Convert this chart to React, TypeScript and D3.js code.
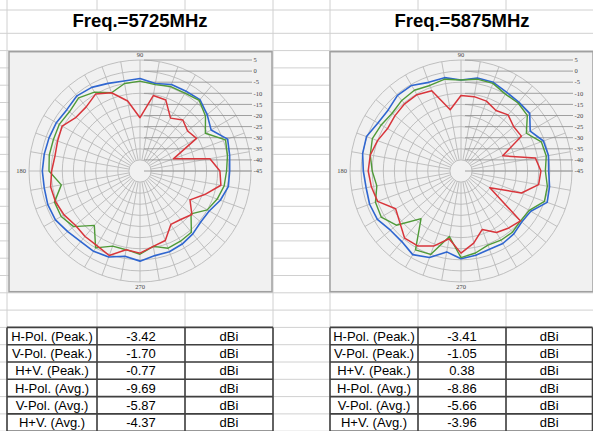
import React from "react";
import * as d3 from "d3";

// ---------- data ----------
const ANGLES = [0, 10, 20, 30, 40, 50, 60, 70, 80, 90, 100, 110, 120, 130, 140, 150, 160, 170,
  180, 190, 200, 210, 220, 230, 240, 250, 260, 270, 280, 290, 300, 310, 320, 330, 340, 350];

const RING_TICKS = [5, 0, -5, -10, -15, -20, -25, -30, -35, -40, -45];
const ANGLE_LABELS = ["90", "180", "270"];

const TITLES = ["Freq.=5725MHz", "Freq.=5875MHz"];

// 5725 MHz
const HV_5725 = [-4.6, -4.0, -3.0, -8.0, -5.5, -3.0, -3.5, -3.5, -5.0, -3.3, -3.8, -3.0, -1.5, -0.8, -2.0, -1.5, -1.4, -1.2,
  -1.0, -1.2, -0.8, -1.0, -2.5, -3.5, -3.2, -3.8, -6.0, -4.4, -6.3, -6.3, -7.0, -8.0, -9.3, -9.0, -6.5, -4.6];
const V_5725 = [-6, -5, -4, -11, -6.5, -3.5, -4.5, -4.5, -5.5, -4.5, -5, -7.5, -4, -2, -3.5, -3, -3.5, -3.5,
  -4, -9, -4, -4, -6, -13, -5, -9, -9, -7.5, -10.5, -8, -8.5, -9, -15, -10, -8, -6.5];
const H_5725 = [-9, -13, -29, -15.6, -17, -15, -17.5, -11, -10.5, -21, -13, -7.5, -5, -7.3, -7.4, -4.5, -5.5, -6.1,
  -5.2, -4.1, -4.5, -5.5, -7, -6.5, -6.2, -4.5, -9, -8, -10.5, -11.7, -17.2, -16.5, -14.5, -19, -14, -8];

// 5875 MHz
const HV_5875 = [-5.5, -5.0, -5.5, -9.0, -4.6, -4.5, -4.0, -2.5, -2.5, -4.0, -2.3, -2.5, -0.5, -0.5, -2.2, -1.8, 0.3, 0.0,
  -1.0, -1.6, -1.2, -1.5, -3.5, -3.5, -1.5, -3.5, -8.0, -5.5, -6.5, -7.5, -7.3, -8.0, -9.3, -8.7, -3.7, -4.5];
const V_5875 = [-7, -6, -6.5, -11, -6, -5, -5, -3, -3, -4, -3, -4, -3, -3.5, -4.5, -3.5, -2.5, -3.5,
  -5, -6.5, -4, -3.5, -7, -17, -4, -5, -15, -6, -7.5, -9.5, -9, -9, -10, -9.5, -5, -5.5];
const H_5875 = [-9, -11, -25, -13.6, -14, -12, -13.5, -11.5, -11, -11, -17, -6.5, -5.3, -5.5, -6.2, -6.8, -5, -3.5,
  -3.2, -4, -5, -11, -9, -5.5, -6, -9, -14, -8, -12, -17, -13, -11.5, -10, -30, -16, -9.5];

const ROW_LABELS = ["H-Pol. (Peak.)", "V-Pol. (Peak.)", "H+V. (Peak.)", "H-Pol. (Avg.)", "V-Pol. (Avg.)", "H+V. (Avg.)"];
const SUMMARY_5725 = ["-3.42", "-1.70", "-0.77", "-9.69", "-5.87", "-4.37"];
const SUMMARY_5875 = ["-3.41", "-1.05", "0.38", "-8.86", "-5.66", "-3.96"];
const UNIT = "dBi";

// ---------- layout ----------
const W = 593, H = 431;
const COLS = [7, 97, 185, 273, 330, 418, 506, 594];
const TITLE_TOP = 10, ROW0 = 33.3, ROW_H = 17.3;
const ROWS = d3.range(0, 24).map((k) => ROW0 + k * ROW_H);
const GRID = "#d0d0d0";
const TABLE_LINE = "#404040";
const COLORS = { hv: "#2f66d0", v: "#4f9a38", h: "#d8353b" };

const r = d3.scaleLinear().domain([-45, 5]).range([0, 111]);

function Polar({ x0, hv, v, h }: { x0: number; hv: number[]; v: number[]; h: number[] }) {
  const fw = 263, fy = 51.7, fh = 240;
  const cx = x0 + 131, cy = 171;
  const line = d3
    .lineRadial<number>()
    .angle((_, i) => ((90 - ANGLES[i]) * Math.PI) / 180)
    .radius((d) => r(d))
    .curve(d3.curveLinearClosed);
  const rad = (a: number) => (a * Math.PI) / 180;
  return (
    <g>
      <rect x={x0} y={fy} width={fw} height={fh} fill="#f1f1f1" stroke="#a0a0a0" strokeWidth={1.5} />
      <g transform={`translate(${cx},${cy})`}>
        {RING_TICKS.filter((t) => t > -45).map((t) => (
          <circle key={t} r={r(t)} fill="none" stroke="#b9b9b9" strokeWidth={0.9} />
        ))}
        {ANGLES.map((a) => (
          <line
            key={a}
            x1={r(-40) * Math.cos(rad(a))}
            y1={-r(-40) * Math.sin(rad(a))}
            x2={r(5) * Math.cos(rad(a))}
            y2={-r(5) * Math.sin(rad(a))}
            stroke="#b9b9b9"
            strokeWidth={0.9}
          />
        ))}
        {RING_TICKS.map((t) => (
          <g key={"l" + t}>
            <line x1={4} x2={112} y1={-r(t)} y2={-r(t)} stroke="#8a8a8a" strokeWidth={0.8} />
            <text x={113.5} y={-r(t)} dy="0.35em" fontSize={6.5} fontFamily="Liberation Serif, serif" fill="#444">
              {t}
            </text>
          </g>
        ))}
        <text x={0} y={-116} dy="0.35em" textAnchor="middle" fontSize={6.5} fontFamily="Liberation Serif, serif" fill="#444">
          {ANGLE_LABELS[0]}
        </text>
        <text x={-114} y={0} dy="0.35em" textAnchor="end" fontSize={6.5} fontFamily="Liberation Serif, serif" fill="#444">
          {ANGLE_LABELS[1]}
        </text>
        <text x={0} y={116} dy="0.35em" textAnchor="middle" fontSize={6.5} fontFamily="Liberation Serif, serif" fill="#444">
          {ANGLE_LABELS[2]}
        </text>
        <path d={line(hv) || ""} fill="none" stroke={COLORS.hv} strokeWidth={1.6} strokeLinejoin="round" />
        <path d={line(v) || ""} fill="none" stroke={COLORS.v} strokeWidth={1.4} strokeLinejoin="round" />
        <path d={line(h) || ""} fill="none" stroke={COLORS.h} strokeWidth={1.5} strokeLinejoin="round" />
      </g>
    </g>
  );
}

function Table({ c0, values }: { c0: number; values: string[] }) {
  const xs = [COLS[c0], COLS[c0 + 1], COLS[c0 + 2], Math.min(COLS[c0 + 3], 592.5)];
  const top = ROWS[17];
  const ys = d3.range(0, 7).map((k) => top + k * ROW_H);
  return (
    <g fontFamily="Liberation Sans, Arial, sans-serif" fontSize={13} fill="#000">
      {ROW_LABELS.map((lab, i) => {
        const y = ys[i] + ROW_H / 2;
        return (
          <g key={lab}>
            <text x={(xs[0] + xs[1]) / 2} y={y} dy="0.36em" textAnchor="middle">{lab}</text>
            <text x={(xs[1] + xs[2]) / 2} y={y} dy="0.36em" textAnchor="middle">{values[i]}</text>
            <text x={(xs[2] + xs[3]) / 2} y={y} dy="0.36em" textAnchor="middle">{UNIT}</text>
          </g>
        );
      })}
      {ys.map((y, i) => (
        <line key={"h" + i} x1={xs[0]} x2={xs[3]} y1={y} y2={y} stroke={TABLE_LINE} strokeWidth={1.6} />
      ))}
      {xs.map((x, i) => (
        <line key={"v" + i} x1={x} x2={x} y1={ys[0]} y2={ys[6]} stroke={TABLE_LINE} strokeWidth={1.6} />
      ))}
    </g>
  );
}

export default function App() {
  const merged = new Set([97, 185, 418, 506]);
  return (
    <svg width={W} height={H} style={{ position: "absolute", left: 0, top: 0, background: "#fff" }}>
      <rect width={W} height={H} fill="#fff" />
      {/* sheet grid */}
      {[TITLE_TOP, ...ROWS].map((y, i) => (
        <line key={"r" + i} x1={0} x2={W} y1={y} y2={y} stroke={GRID} strokeWidth={1} />
      ))}
      {COLS.map((x) =>
        merged.has(x) ? (
          <g key={"c" + x}>
            <line x1={x} x2={x} y1={0} y2={TITLE_TOP} stroke={GRID} />
            <line x1={x} x2={x} y1={ROW0} y2={H} stroke={GRID} />
          </g>
        ) : (
          <line key={"c" + x} x1={x} x2={x} y1={0} y2={H} stroke={GRID} />
        )
      )}
      {/* titles */}
      <text x={140} y={27} textAnchor="middle" fontFamily="Liberation Sans, Arial, sans-serif" fontWeight="bold" fontSize={18.5}>
        {TITLES[0]}
      </text>
      <text x={462} y={27} textAnchor="middle" fontFamily="Liberation Sans, Arial, sans-serif" fontWeight="bold" fontSize={18.5}>
        {TITLES[1]}
      </text>
      <Polar x0={9} hv={HV_5725} v={V_5725} h={H_5725} />
      <Polar x0={330} hv={HV_5875} v={V_5875} h={H_5875} />
      <Table c0={0} values={SUMMARY_5725} />
      <Table c0={4} values={SUMMARY_5875} />
    </svg>
  );
}
